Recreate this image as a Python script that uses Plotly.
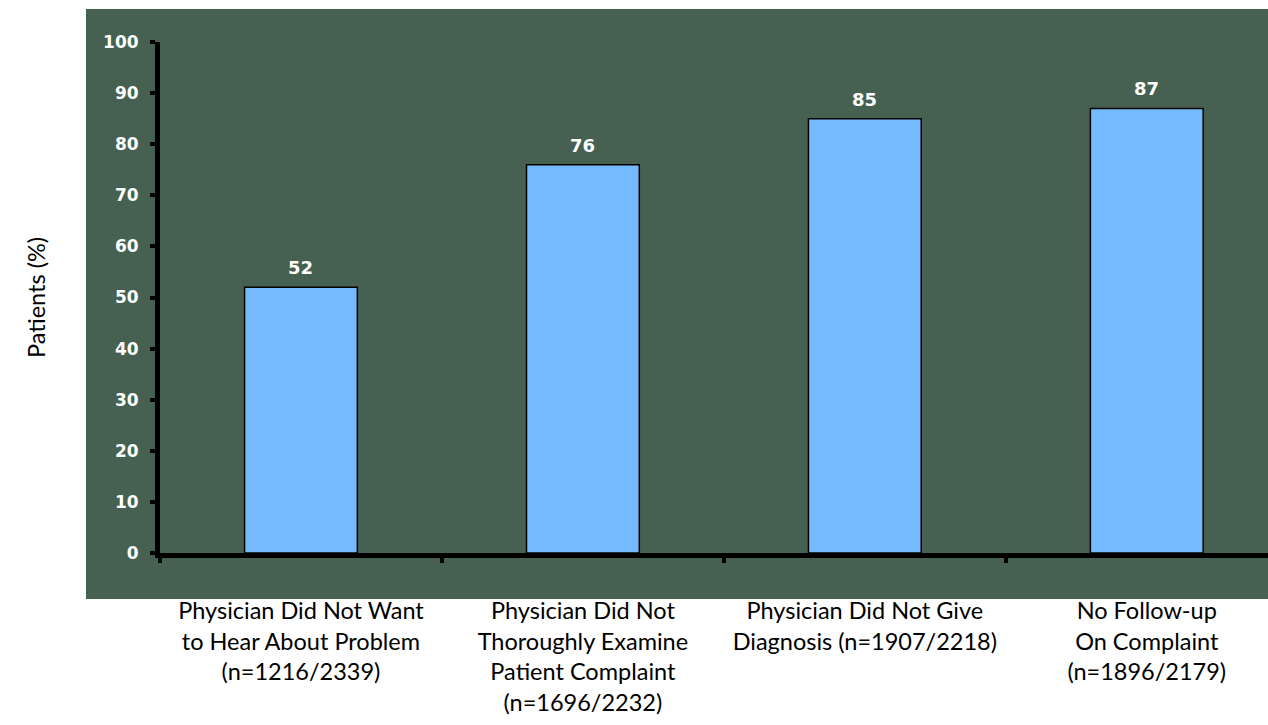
import plotly.graph_objects as go

categories = [
    "Physician Did Not Want<br>to Hear About Problem<br>(n=1216/2339)",
    "Physician Did Not<br>Thoroughly Examine<br>Patient Complaint<br>(n=1696/2232)",
    "Physician Did Not Give<br>Diagnosis (n=1907/2218)",
    "No Follow-up<br>On Complaint<br>(n=1896/2179)",
]
values = [52, 76, 85, 87]
y_ticks = [0, 10, 20, 30, 40, 50, 60, 70, 80, 90, 100]

PANEL = "#466052"
BAR = "#75b9ff"
LABEL_FONT = "DejaVu Sans"
TEXT_FONT = "Lato"

fig = go.Figure()
fig.add_trace(go.Bar(
    x=categories,
    y=values,
    width=0.4,
    marker=dict(color=BAR, line=dict(color="#000000", width=1.5)),
    hoverinfo="skip",
))

# value labels above each bar
for c, v in zip(categories, values):
    fig.add_annotation(
        x=c, y=v, text=str(v), showarrow=False, yanchor="bottom", yshift=7,
        font=dict(family=LABEL_FONT, size=18, color="#ffffff", weight="bold"),
    )

# dark green panel behind the plot, extending past the axes
fig.add_shape(
    type="rect", xref="paper", yref="paper",
    x0=-0.0668, x1=1.05, y0=-0.090, y1=1.0646,
    fillcolor=PANEL, line=dict(width=0), layer="below",
)

fig.update_layout(
    width=1268, height=725,
    margin=dict(l=160, r=0, t=42, b=172),
    paper_bgcolor="#ffffff",
    plot_bgcolor=PANEL,
    showlegend=False,
    xaxis=dict(
        range=[-0.5, 3.43],
        automargin=False,
        tickangle=0,
        showgrid=False, zeroline=False,
        showline=True, linecolor="#000000", linewidth=5,
        ticks="outside", tickson="boundaries", ticklen=5, tickwidth=4, tickcolor="#000000",
        ticklabelstandoff=33,
        tickfont=dict(family=TEXT_FONT, size=23.5, color="#000000"),
    ),
    yaxis=dict(
        range=[0, 100],
        automargin=False,
        tickvals=y_ticks,
        showgrid=False, zeroline=False,
        showline=True, linecolor="#000000", linewidth=5,
        ticks="outside", ticklen=5, tickwidth=4, tickcolor="#000000",
        ticklabelstandoff=8,
        tickfont=dict(family=LABEL_FONT, size=17, color="#ffffff", weight="bold"),
        title=dict(text="Patients (%)", standoff=52,
                   font=dict(family=TEXT_FONT, size=23.5, color="#000000")),
    ),
)

fig.write_html("out.html")
